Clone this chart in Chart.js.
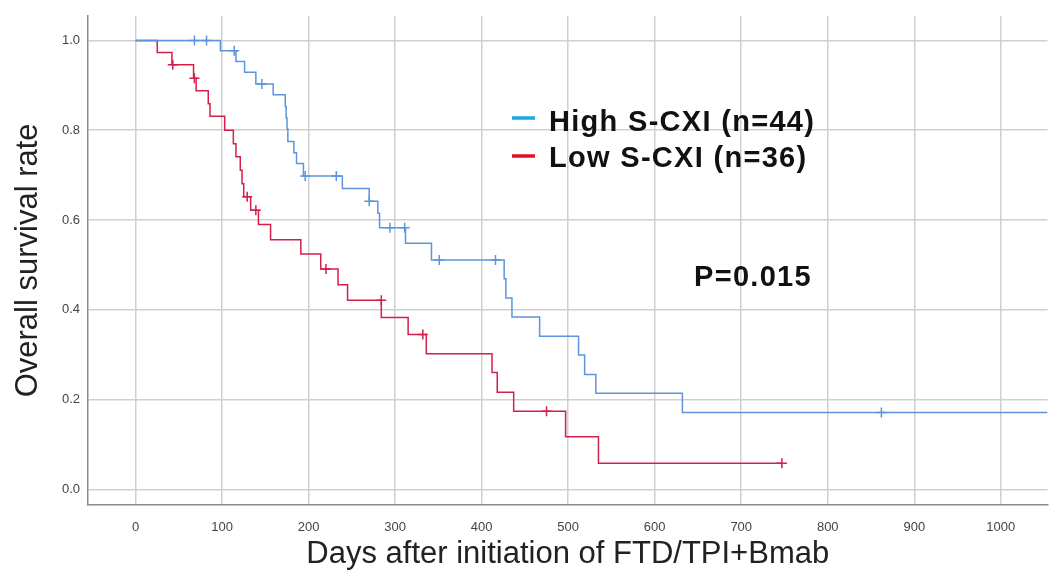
<!DOCTYPE html>
<html>
<head>
<meta charset="utf-8">
<script src="https://cdn.jsdelivr.net/npm/chart.js@4.4.0/dist/chart.umd.min.js"></script>
<style>
  html, body { margin: 0; padding: 0; background: #fff; }
  #wrap { width: 1054px; height: 575px; }
</style>
</head>
<body>
<div id="wrap"><canvas id="km"></canvas></div>
<script>
// Kaplan-Meier steps (day, survival after that day)
const highDays = [0, 98, 116, 126, 139, 159, 173, 174, 175, 176, 183, 186, 194, 239, 270, 280, 282, 312, 342, 426, 428, 435, 467, 512, 519, 532, 632, 1054];
const highSurv = [1.0, 0.977, 0.953, 0.929, 0.903, 0.879, 0.853, 0.828, 0.803, 0.775, 0.750, 0.726, 0.698, 0.670, 0.642, 0.615, 0.583, 0.548, 0.511, 0.469, 0.426, 0.384, 0.341, 0.299, 0.256, 0.214, 0.171, 0.171];
const highCensDays = [68, 82, 114, 146, 196, 232, 270, 294, 311, 351, 416, 862];
const highCensSurv = [1.0, 1.0, 0.977, 0.903, 0.698, 0.698, 0.642, 0.583, 0.583, 0.511, 0.511, 0.171];

const lowDays = [0, 25, 42, 67, 70, 84, 86, 103, 113, 116, 121, 123, 125, 133, 142, 156, 191, 214, 234, 245, 284, 315, 336, 412, 418, 437, 497, 535, 747];
const lowSurv = [1.0, 0.973, 0.946, 0.916, 0.888, 0.859, 0.831, 0.800, 0.770, 0.741, 0.711, 0.681, 0.652, 0.622, 0.590, 0.556, 0.524, 0.491, 0.456, 0.421, 0.383, 0.345, 0.302, 0.260, 0.216, 0.174, 0.117, 0.058, 0.058];
const lowCensDays = [43, 68, 129, 139, 220, 284, 332, 475, 747];
const lowCensSurv = [0.946, 0.916, 0.652, 0.622, 0.491, 0.421, 0.345, 0.174, 0.058];

const xTicks = [0, 100, 200, 300, 400, 500, 600, 700, 800, 900, 1000];
const yTicks = [0.0, 0.2, 0.4, 0.6, 0.8, 1.0];

const legendLabels = ['High S-CXI (n=44)', 'Low S-CXI (n=36)'];
const pLabel = 'P=0.015';

const colors = {high: '#5d94dc', low: '#d21f4c', highKey: '#1ea6e2', lowKey: '#e3121c'};

const toPts = (xs, ys) => xs.map((x, i) => ({x: x, y: ys[i]}));

// legend and p-value live inside the plot area
const overlay = {
  id: 'overlay',
  afterDraw(chart) {
    const ctx = chart.ctx;
    ctx.save();
    ctx.lineWidth = 3.5;
    ctx.strokeStyle = colors.highKey;
    ctx.beginPath(); ctx.moveTo(512, 118); ctx.lineTo(535, 118); ctx.stroke();
    ctx.strokeStyle = colors.lowKey;
    ctx.beginPath(); ctx.moveTo(512, 156); ctx.lineTo(535, 156); ctx.stroke();
    ctx.fillStyle = '#111';
    ctx.font = 'bold 29px "Liberation Sans", Arial, sans-serif';
    ctx.letterSpacing = '1.3px';
    ctx.textBaseline = 'alphabetic';
    ctx.fillText(legendLabels[0], 549, 131);
    ctx.fillText(legendLabels[1], 549, 167);
    ctx.fillText(pLabel, 694, 286);
    ctx.restore();
  }
};

new Chart(document.getElementById('km'), {
  type: 'line',
  data: {
    datasets: [
      {label: 'high', data: toPts(highDays, highSurv), borderColor: colors.high, borderWidth: 1.5, stepped: true, pointRadius: 0, fill: false},
      {label: 'low', data: toPts(lowDays, lowSurv), borderColor: colors.low, borderWidth: 1.5, stepped: true, pointRadius: 0, fill: false},
      {label: 'high censored', data: toPts(highCensDays, highCensSurv), showLine: false, pointStyle: 'cross', pointRadius: 5, borderColor: colors.high, borderWidth: 1.5},
      {label: 'low censored', data: toPts(lowCensDays, lowCensSurv), showLine: false, pointStyle: 'cross', pointRadius: 5, borderColor: colors.low, borderWidth: 1.5}
    ]
  },
  options: {
    responsive: true,
    maintainAspectRatio: false,
    animation: false,
    layout: {padding: {left: 0, top: 13, right: 3, bottom: 0}},
    plugins: {legend: {display: false}, tooltip: {enabled: false}},
    scales: {
      x: {
        type: 'linear', min: -55, max: 1054,
        afterBuildTicks: s => { s.ticks = xTicks.map(v => ({value: v})); },
        afterFit: s => { s.height = 70; },
        grid: {color: '#d0d0d0', lineWidth: 1.5, drawTicks: false},
        border: {color: '#8c8c8c', width: 1.5},
        ticks: {padding: 15, color: '#444', font: {family: '"Liberation Sans", Arial, sans-serif', size: 13}, maxRotation: 0,
                callback: v => String(v)},
        title: {display: true, text: 'Days after initiation of FTD/TPI+Bmab', color: '#222',
                font: {family: '"Liberation Sans", Arial, sans-serif', size: 31, lineHeight: 1.2}, padding: {top: 0, bottom: 2}}
      },
      y: {
        type: 'linear', min: -0.035, max: 1.055,
        afterBuildTicks: s => { s.ticks = yTicks.map(v => ({value: v})); },
        afterFit: s => { s.width = 88; },
        grid: {color: '#d0d0d0', lineWidth: 1.5, drawTicks: false},
        border: {color: '#8c8c8c', width: 1.5},
        ticks: {padding: 8, color: '#444', font: {family: '"Liberation Sans", Arial, sans-serif', size: 13}, callback: v => v.toFixed(1)},
        title: {display: true, text: 'Overall survival rate', color: '#222',
                font: {family: '"Liberation Sans", Arial, sans-serif', size: 31, lineHeight: 1.2}, padding: {top: 10, bottom: 0}}
      }
    }
  },
  plugins: [overlay]
});
</script>
</body>
</html>
